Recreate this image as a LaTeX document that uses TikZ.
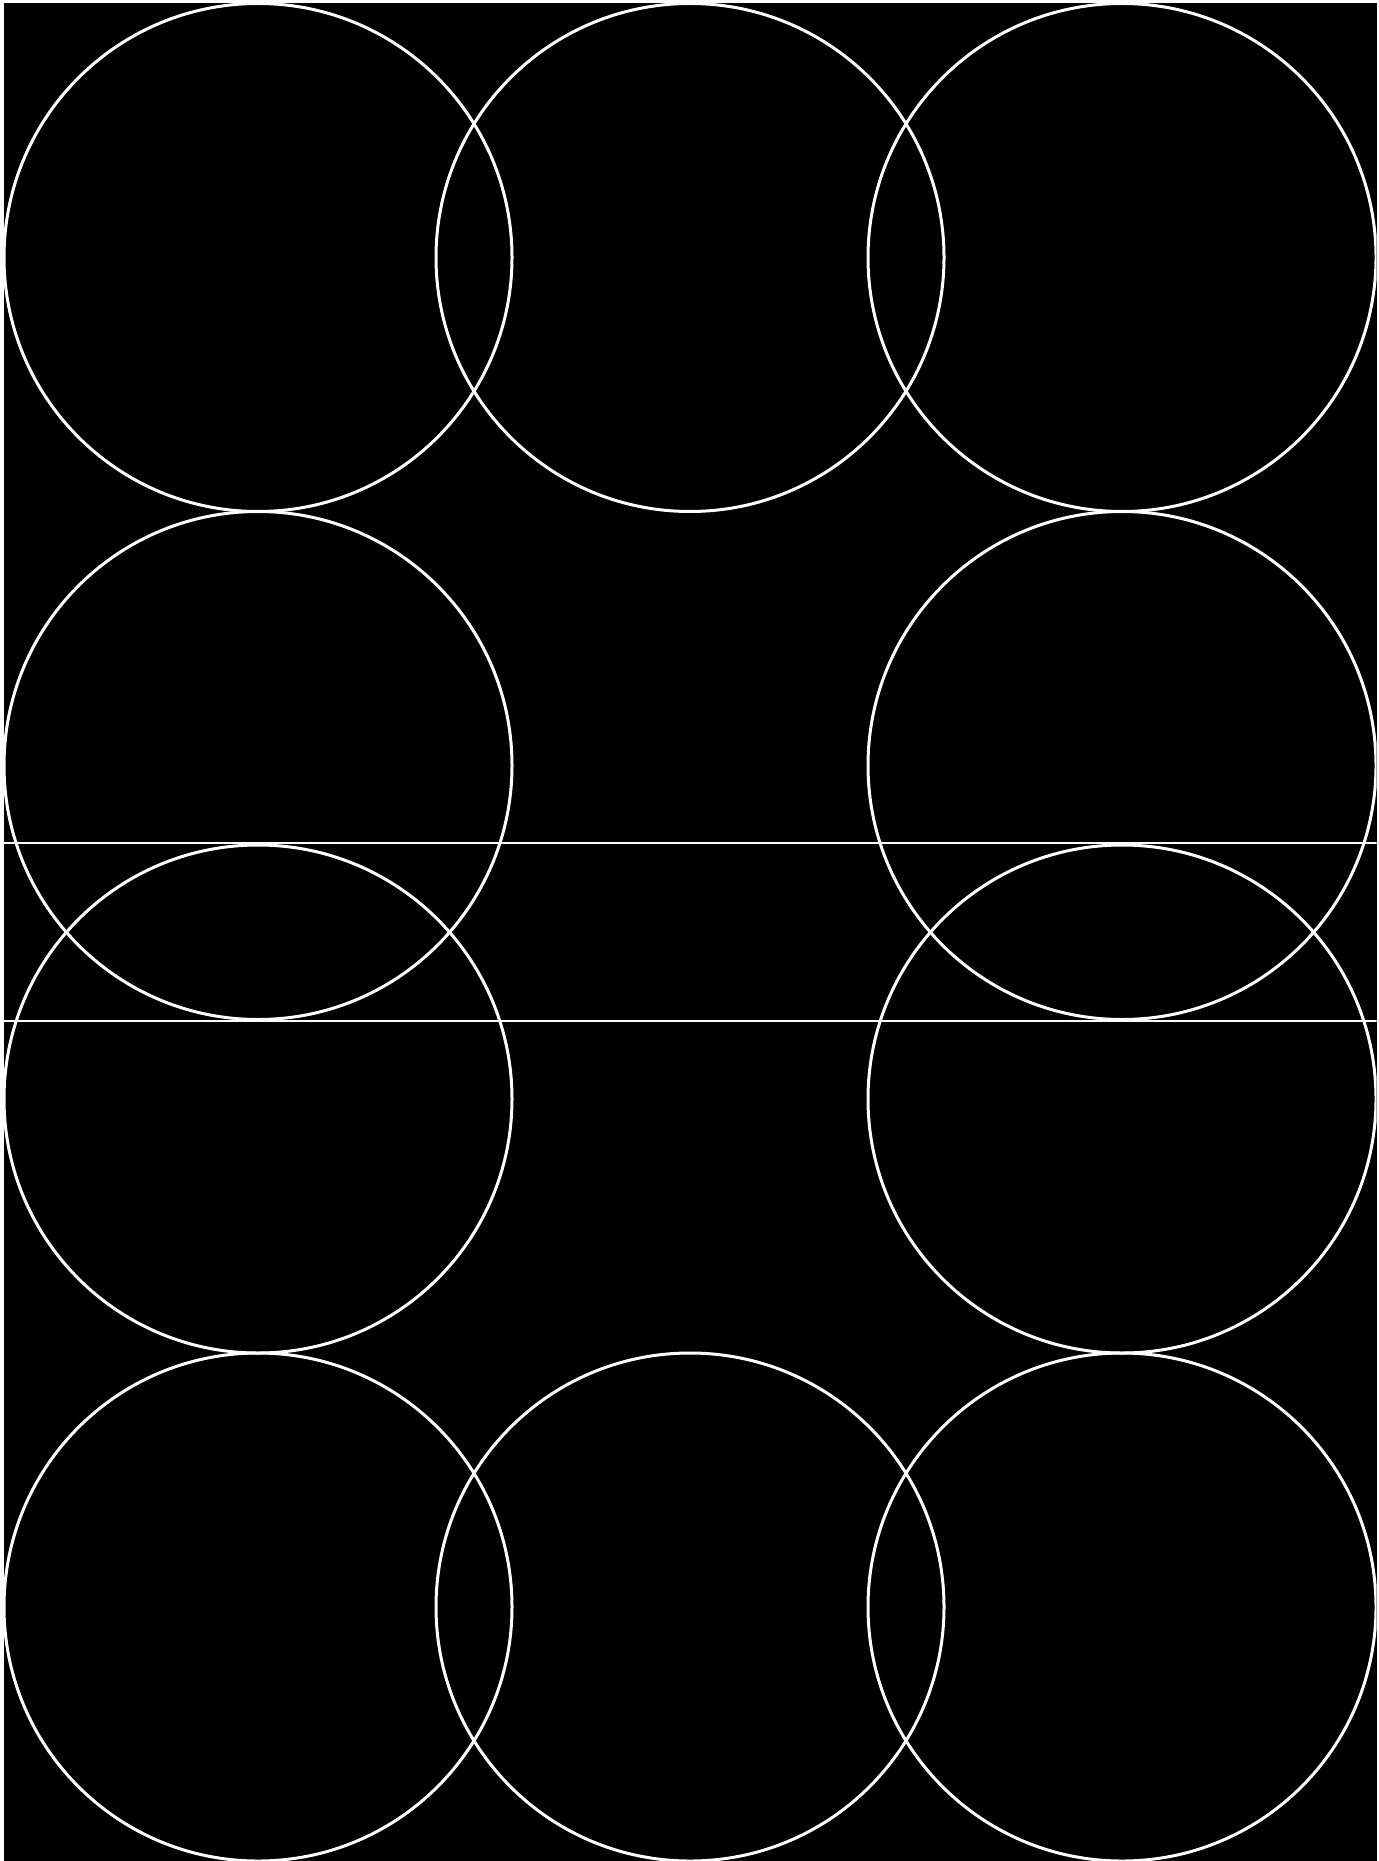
\documentclass[tikz,border=0pt]{standalone}
\usepackage{tikz}

\begin{document}
\begin{tikzpicture}[
    x=0.5pt, y=-0.5pt,
    ring/.style={draw=white, line width=1.5pt},
    rule/.style={draw=white, line width=1.3pt}
]

% page and black panel
\useasboundingbox (0,0) rectangle (1378,1861);
\fill[white] (0,0) rectangle (1378,1861);
\fill[black] (3.5,3.5) rectangle (1376.5,1861);

\begin{scope}
\clip (3.5,3.5) rectangle (1376.5,1861);

% top and bottom rows
\foreach \cx in {258,690,1122}
  \foreach \cy in {257.5,1607}
    \draw[ring] (\cx,\cy) circle[radius=254];

% middle rows, outer columns only
\foreach \cx in {258,1122}
  \foreach \cy in {765.5,1099}
    \draw[ring] (\cx,\cy) circle[radius=254];

% horizontal rules
\draw[rule] (3.5,843) -- (1376.5,843);
\draw[rule] (3.5,1021) -- (1376.5,1021);
\end{scope}

\end{tikzpicture}
\end{document}
